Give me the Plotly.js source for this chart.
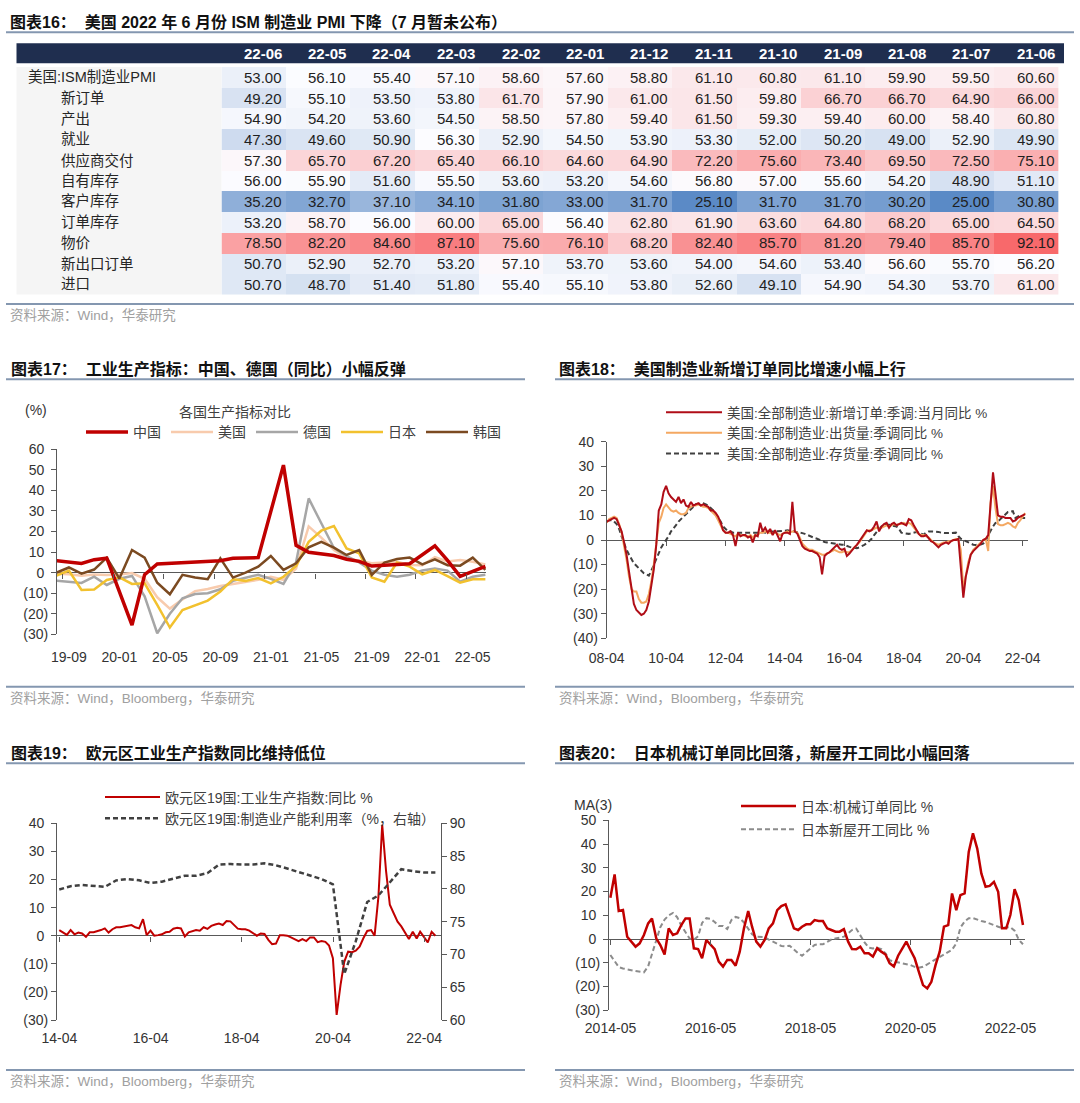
<!DOCTYPE html>
<html>
<head>
<meta charset="utf-8">
<script src="https://cdn.plot.ly/plotly-3.0.1.min.js"></script>
<style>
html, body { margin:0; padding:0; background:#ffffff; }
#chart { width:1080px; height:1103px; }
</style>
</head>
<body>
<div id="chart"></div>
<script>
// ================= 图表16: ISM PMI table =================
const pmiMonths = ['22-06','22-05','22-04','22-03','22-02','22-01','21-12','21-11','21-10','21-09','21-08','21-07','21-06'];
const pmiRowLabels = ['美国:ISM制造业PMI','新订单','产出','就业','供应商交付','自有库存','客户库存','订单库存','物价','新出口订单','进口'];
const pmiHeadline   = [53.00,56.10,55.40,57.10,58.60,57.60,58.80,61.10,60.80,61.10,59.90,59.50,60.60];
const pmiNewOrders  = [49.20,55.10,53.50,53.80,61.70,57.90,61.00,61.50,59.80,66.70,66.70,64.90,66.00];
const pmiProduction = [54.90,54.20,53.60,54.50,58.50,57.80,59.40,61.50,59.30,59.40,60.00,58.40,60.80];
const pmiEmployment = [47.30,49.60,50.90,56.30,52.90,54.50,53.90,53.30,52.00,50.20,49.00,52.90,49.90];
const pmiDeliveries = [57.30,65.70,67.20,65.40,66.10,64.60,64.90,72.20,75.60,73.40,69.50,72.50,75.10];
const pmiInventory  = [56.00,55.90,51.60,55.50,53.60,53.20,54.60,56.80,57.00,55.60,54.20,48.90,51.10];
const pmiCustInv    = [35.20,32.70,37.10,34.10,31.80,33.00,31.70,25.10,31.70,31.70,30.20,25.00,30.80];
const pmiBacklog    = [53.20,58.70,56.00,60.00,65.00,56.40,62.80,61.90,63.60,64.80,68.20,65.00,64.50];
const pmiPrices     = [78.50,82.20,84.60,87.10,75.60,76.10,68.20,82.40,85.70,81.20,79.40,85.70,92.10];
const pmiExports    = [50.70,52.90,52.70,53.20,57.10,53.70,53.60,54.00,54.60,53.40,56.60,55.70,56.20];
const pmiImports    = [50.70,48.70,51.40,51.80,55.40,55.10,53.80,52.60,49.10,54.90,54.30,53.70,61.00];

// ================= 图表17: industrial production =================
const ipMonths = ['19-08','19-09','19-10','19-11','19-12','20-01','20-02','20-03','20-04','20-05','20-06','20-07','20-08','20-09','20-10','20-11','20-12','21-01','21-02','21-03','21-04','21-05','21-06','21-07','21-08','21-09','21-10','21-11','21-12','22-01','22-02','22-03','22-04','22-05','22-06'];
const ipTickLabels = ['19-09','20-01','20-05','20-09','21-01','21-05','21-09','22-01','22-05'];
const ipYTicks = [-30,-20,-10,0,10,20,30,40,50,60];
const ipChina   = [5.8,5.3,4.5,6.3,7.0,null,-25.5,-1.0,4.2,4.5,4.6,4.8,5.2,5.8,7.0,7.2,7.3,null,52.3,13.3,9.9,8.9,8.3,6.5,5.5,3.2,3.5,3.8,4.3,null,13.0,6.0,-1.8,0.7,3.0];
const ipUS      = [-0.5,-0.8,-1.5,-0.9,-1.2,-0.9,-0.2,-3.0,-12.0,-17.5,-13.0,-9.0,-8.0,-6.5,-5.5,-4.5,-3.5,-2.0,-3.5,2.0,22.5,17.0,11.0,7.0,5.9,4.6,4.9,5.3,3.7,3.6,7.5,5.4,6.1,5.3,4.0];
const ipGermany = [-3.9,-4.3,-5.0,-2.0,-6.0,-3.0,-1.6,-11.5,-29.5,-20.0,-12.5,-10.4,-10.0,-8.1,-4.0,-2.5,-1.0,-3.0,-5.5,5.0,36.1,24.0,12.0,8.0,5.0,1.0,-1.0,-2.0,-1.0,1.0,2.0,1.0,-4.4,-2.0,-1.0];
const ipJapan   = [-1.5,1.0,-8.4,-8.2,-3.6,-2.3,-5.5,-5.2,-15.7,-26.7,-18.2,-16.0,-13.6,-9.2,-3.2,-4.0,-2.6,-5.2,-2.0,3.2,15.0,20.4,22.7,11.8,9.4,-2.3,-4.4,4.9,2.9,-0.8,1.3,-1.7,-4.9,-3.2,-3.2];
const ipKorea   = [0.0,2.5,-0.5,1.5,7.3,-2.9,11.0,7.3,-4.9,-10.5,-1.1,-2.4,-3.2,7.0,-2.4,0.0,2.9,8.1,1.3,4.5,12.3,15.0,12.2,8.6,11.0,-1.1,4.9,6.6,7.3,4.0,6.5,3.6,3.4,7.3,1.3];

// ================= 图表18: US manufacturing (monthly from 2008-04) =================
const usTickLabels = ['08-04','10-04','12-04','14-04','16-04','18-04','20-04','22-04'];
const usYTicks = [-40,-30,-20,-10,0,10,20,30,40];
const usNewOrders = [
  7.5,8,8.5,9,8.5,6,3.5,-1,-6,
  -13,-21,-26,-28.5,-29.5,-30.5,-30,-28.5,-25,-19,-12,-2,
  12,14.5,19.5,22,19,17.5,16.5,15.5,17.5,15,16.5,14,
  13.5,15.5,14,14.5,15,14,14.5,14,13.5,12,12,11,
  9.5,7,4,3,3,3.5,2,-2.5,3,1.5,2,2,
  1,1.5,-1,2,1.5,7,3.5,5,3,4.5,2,4,
  2,-0.5,2.5,3,3,2.5,15.5,3.5,2.5,0,-2.5,-3.5,
  -4,-4.5,-4.5,-5,-5.5,-7,-14,-6.5,-5.5,-5,-4,-3,
  -2,-3.5,-4,-3.5,-6.5,-5.5,-4,-3,-2,-0.5,1,2.5,
  4,3.5,4,5.5,7.5,3.5,5.5,6.5,7,5,6.5,7,
  6,6.5,7,6.5,6,8.5,8,6,4,2.5,1.5,1.5,
  2,0.5,-0.5,-1,-2,-3,-2,-1.5,-1,-1.5,-0.5,0,
  0,0.5,-11,-23.5,-15,-10,-6,-4.5,-3.5,-2.5,-1.5,0,
  0.5,2,15,27.5,19,10,9.5,9.5,9,9,9,7.5,
  8,9,9.5,10,10.5];
const usShipments = [
  7,8.5,9,9.5,9,6.5,3,-2,-8,
  -15,-20,-21,-21,-24,-25.5,-25.5,-25,-22,-17,-10,-2,
  7,9.5,13,14.5,13,12,11.5,12,11,10.5,10.5,11,
  13,13.5,14,14,14.5,14,13.5,13.5,13,12,11,10,
  8,6,4,3,3,2.5,2,1.5,2.5,2,2,1.5,
  1.5,2,1,2,2,3,3,3.5,3,3,2.5,3,
  2.5,2,2.5,3,3.5,3,3.5,3.5,3,1,-1.5,-2.5,
  -3.5,-4,-4,-4.5,-5,-5.5,-6,-6,-5.5,-5,-4.5,-4,
  -4.5,-5,-5,-4.5,-5,-5,-4,-3,-2,-1,0.5,2,
  3.5,4,4,4.5,5,4.5,5,5.5,6,5.5,6,6.5,
  6,6.5,6.5,7,6.5,7,6.5,5,3.5,2.5,2,2,
  1.5,1,0,-1,-1.5,-2,-1.5,-1,-1,-0.5,-0.5,0,
  0.5,0,-4,-20,-15,-9,-6,-4,-3,-2,-1,0,
  0.5,-4.5,15,22,13,6.5,6,6,6.5,7,6.5,5.5,
  5,7,8,9.5,11];
const usInventories = [
  7.5,8,8,7.5,6.5,4.5,1.5,-1.5,-4,
  -6,-8,-9.5,-10.5,-11.5,-12.5,-13.5,-14,-14.5,-12.5,-10,-7.5,
  -5.5,-3,-1.5,0,1.5,3.5,5,6,7.5,8.5,9.5,10.5,
  11.5,12.5,13.5,14.5,14.5,15,15,14.5,14,13,12,10.5,
  9,7.5,5.5,4.5,3.5,3.5,3,3,3,3,2.8,3,
  2.8,3,3,3,3,3,3.2,3,3.2,3.5,3.5,3.5,
  3.5,3.7,3.8,3.8,4,3.8,3.8,3.5,3.5,3,2.8,2.5,
  2,1.5,1,0.8,0.5,0,-0.5,-0.8,-1,-1.2,-1.3,-1.5,
  -1.7,-1.8,-1.9,-2,-2.5,-2.8,-3,-3.3,-3.3,-3,-2.6,-2,
  -1.3,-0.5,0.5,2,3.5,4.5,5.5,6,6.2,6.2,6,5.8,
  5.5,4.5,3,2.8,2.5,2.5,2.7,3,3.2,3,2.5,2.2,
  3,3.5,3.5,3.5,3.5,3.3,3,2.8,2.8,2.8,2.8,3,
  3,1.5,0.5,0,-0.5,-1,-1.5,-1.9,-2,-2,-1.8,-1.5,
  -0.5,2,4,5.5,6.9,7.5,8.5,9.5,10.5,11.4,11.5,11.7,
  9,9.5,10,9,9];

// ================= 图表19: Euro area (monthly from 2014-03; capacity quarterly) =================
const euTickLabels = ['14-04','16-04','18-04','20-04','22-04'];
const euYTicks = [-30,-20,-10,0,10,20,30,40];
const euY2Ticks = [60,65,70,75,80,85,90];
const euIP = [
  2.0,1.0,0.3,2.0,0.5,1.1,0.8,-0.4,1.2,1.2,
  1.5,2.0,2.6,1.1,2.3,3.0,3.0,3.3,3.6,3.8,3.0,2.6,
  5.9,0.2,1.8,0.0,0.2,0.5,1.2,1.4,2.5,2.8,2.6,-0.3,
  1.2,1.7,2.0,1.8,3.0,2.4,3.5,4.0,4.3,3.8,5.2,5.1,
  3.8,2.5,2.3,2.3,1.8,1.0,0.0,0.8,0.6,-1.5,-3.0,-2.8,
  0.2,0.2,0.0,-0.6,-1.3,-1.9,-1.2,-1.9,-0.6,-0.6,-2.3,-1.9,
  -2.2,-3.5,-8.0,-28.2,-17.6,-9.3,-5.7,-5.9,-5.3,-3.9,-0.9,1.7,
  2.0,0.0,14.0,39.5,23.0,11.0,8.0,5.0,3.3,0.8,-1.2,1.4,
  -1.0,1.4,-0.6,-2.4,1.4,0.0];
const euCapacity = [79.9,80.4,80.6,80.5,80.3,81.3,81.5,81.3,80.9,81.1,81.6,82.0,82.0,82.4,83.7,83.8,83.7,83.7,83.9,83.6,83.1,82.6,82.1,81.5,80.7,67.0,72.0,78.0,79.0,81.0,83.0,82.7,82.5,82.5];

// ================= 图表20: Japan (monthly from 2014-04) =================
const jpTickLabels = ['2014-05','2016-05','2018-05','2020-05','2022-05'];
const jpYTicks = [-30,-20,-10,0,10,20,30,40,50];
const jpMachinery = [
  17.4,27.2,11.8,12.2,1.0,-1.1,-3.2,-1.8,1.7,6.6,
  8.7,0.3,-2.5,-6.5,4.5,1.7,2.4,5.9,8.7,8.7,
  -3.9,-4.2,-8.1,-0.4,-2.5,-4.2,-9.5,-11.6,-8.8,-8.8,
  -11.2,-5.3,4.5,11.8,5.2,-1.1,-3.2,-0.4,4.5,6.6,
  12.2,13.9,14.6,9.4,4.5,3.8,5.2,6.2,6.2,8.0,
  7.6,7.6,4.5,3.8,3.1,3.1,4.2,-1.1,-4.2,-4.3,
  -3.2,-6.0,-6.0,-7.4,-3.9,-5.3,-6.5,-10.2,-11.6,-7.0,
  -3.9,-1.1,-4.6,-8.1,-13.7,-19.4,-20.8,-18.0,-10.9,-5.3,
  5.2,5.9,19.2,12.2,18.5,19.2,36.7,44.5,38.1,27.6,
  22.0,22.4,24.1,19.9,4.5,4.5,10.1,21.0,16.4,5.9];
const jpHousing = [
  -6.7,-9.5,-11.8,-12.4,-12.6,-13.1,-13.5,-13.7,-14.0,-11.5,
  -6.5,-1.2,5.0,8.2,10.0,11.0,9.2,5.7,2.8,0.2,
  -0.3,1.2,6.8,8.8,8.5,7.2,5.5,5.5,4.2,8.0,
  9.3,8.8,7.0,4.5,2.0,1.0,1.0,0.8,-0.2,-1.2,
  -1.9,-2.9,-3.1,-2.8,-4.4,-6.0,-7.0,-5.5,-3.7,-2.5,
  -2.2,-2.2,-1.2,-0.2,0.2,0.6,1.0,2.4,3.8,4.4,
  1.6,-1.4,-3.6,-4.0,-3.7,-4.2,-6.0,-8.9,-9.5,-9.9,
  -10.1,-10.5,-10.9,-11.7,-12.1,-11.7,-10.7,-9.6,-8.5,-7.5,
  -6.5,-5.6,-4.5,-1.8,4.8,7.4,8.8,8.8,8.1,7.6,
  7.2,6.7,5.9,5.2,4.6,5.0,5.0,3.5,-0.2,-2.2];

// ================= helpers =================
function monthSeq(y0, m0, n, step, monthEnd) {
  const out = [];
  for (let k = 0; k < n; k++) {
    const idx = m0 - 1 + k * step;
    const y = y0 + Math.floor(idx / 12);
    const m = idx % 12 + 1;
    const d = monthEnd ? new Date(Date.UTC(y, m, 0)).getUTCDate() : 1;
    out.push(y + '-' + String(m).padStart(2, '0') + '-' + String(d).padStart(2, '0'));
  }
  return out;
}
const paren = v => v < 0 ? '(' + (-v) + ')' : v + '\u00a0';

const W = 1080, H = 1103;
const fx = p => p / W;
const fy = p => 1 - p / H;
const domX = (a, b) => [fx(a), fx(b)];
const domY = (top, bottom) => [fy(bottom), fy(top)];

const FONT_LAT = '"Liberation Sans", Arial, sans-serif';
const FONT_MIX = '"Liberation Sans", "Noto Sans CJK SC", sans-serif';
const AXC = '#595959';
const LINE_C = '#8497b0';
const tickFont = {family: FONT_LAT, size: 14, color: '#333333'};

function yAxis(top, bottom, range, vals, anchor, labeler) {
  return {domain: domY(top, bottom), range: range, anchor: anchor, tickmode: 'array', tickvals: vals,
    ticktext: vals.map(labeler || paren), showline: true, linecolor: AXC, linewidth: 1, ticks: 'outside',
    ticklen: 5, tickcolor: AXC, tickfont: tickFont, showgrid: false, zeroline: true, zerolinecolor: AXC,
    zerolinewidth: 1, fixedrange: true};
}
function xLabelAxis(domain, range, type, vals, text, anchor, standoff) {
  return {domain: domain, range: range, type: type, anchor: anchor, tickmode: 'array', tickvals: vals,
    ticktext: text, ticks: 'outside', ticklen: standoff, tickcolor: 'rgba(0,0,0,0)', showline: false,
    showgrid: false, zeroline: false, tickfont: tickFont, fixedrange: true};
}
function tickAxis(overlay, domain, range, type, vals, yTop, yBottom, yRange) {
  const frac = (0 - yRange[0]) / (yRange[1] - yRange[0]);
  const d = domY(yTop, yBottom);
  return {overlaying: overlay, anchor: 'free', position: d[0] + frac * (d[1] - d[0]), side: 'bottom',
    domain: domain, range: range, type: type, tickmode: 'array', tickvals: vals, ticks: 'outside',
    ticklen: 5, tickcolor: AXC, tickwidth: 1, showticklabels: false, showgrid: false, zeroline: false,
    showline: false, fixedrange: true};
}

// ================= geometry =================
const T = {x0: 221.5, x1: 1058.7, top: 67, bottom: 294.6};
const C17 = {x0: 57, x1: 486, top: 449.3, bottom: 634.3, range: [0.057, 34.05], yr: [-30, 60]};
const C18 = {x0: 606.7, x1: 1028, top: 441.7, bottom: 638.3, range: ['2008-04-01', '2022-06-05'], yr: [-40, 40]};
const C19 = {x0: 57, x1: 441, top: 823.3, bottom: 1020, range: ['2014-03-13', '2022-08-14'], yr: [-30, 40], yr2: [60, 90]};
const C20 = {x0: 609, x1: 1025, top: 820.3, bottom: 1010.3, range: ['2014-04-20', '2022-08-15'], yr: [-30, 50]};

// ================= traces =================
const pmiRows = [pmiHeadline, pmiNewOrders, pmiProduction, pmiEmployment, pmiDeliveries, pmiInventory,
  pmiCustInv, pmiBacklog, pmiPrices, pmiExports, pmiImports];
const allV = pmiRows.flat();
const zMin = Math.min(...allV), zMax = Math.max(...allV);
const sortedV = [...allV].sort((a, b) => a - b);
const zMed = sortedV[Math.floor(sortedV.length / 2)];
const midPos = (zMed - zMin) / (zMax - zMin);

const data = [];
data.push({type: 'heatmap', x: pmiMonths, y: pmiRowLabels, z: pmiRows, xaxis: 'x', yaxis: 'y',
  zmin: zMin, zmax: zMax, colorscale: [[0, '#5A8AC6'], [midPos, '#FCFCFF'], [1, '#F8696B']],
  showscale: false, hoverinfo: 'skip', xgap: 0, ygap: 0});

// chart 17
const s17 = [
  {name: '美国', y: ipUS, color: '#f8cbad', w: 2.5, rank: 2},
  {name: '德国', y: ipGermany, color: '#a6a6a6', w: 2.5, rank: 3},
  {name: '日本', y: ipJapan, color: '#f2c12e', w: 2.5, rank: 4},
  {name: '韩国', y: ipKorea, color: '#7b4a21', w: 2.5, rank: 5},
  {name: '中国', y: ipChina, color: '#c00000', w: 3.5, rank: 1}
];
s17.forEach(s => data.push({type: 'scatter', mode: 'lines', name: s.name, x: ipMonths, y: s.y,
  xaxis: 'x2', yaxis: 'y2', legend: 'legend', legendrank: s.rank, connectgaps: true,
  line: {color: s.color, width: s.w}, hoverinfo: 'skip'}));

// chart 18
const usDates = monthSeq(2008, 4, usNewOrders.length, 1, false);
data.push({type: 'scatter', mode: 'lines', name: '美国:全部制造业:存货量:季调同比 %', x: usDates, y: usInventories,
  xaxis: 'x3', yaxis: 'y3', legend: 'legend2', legendrank: 3, line: {color: '#404040', width: 2, dash: '5px,3px'}, hoverinfo: 'skip'});
data.push({type: 'scatter', mode: 'lines', name: '美国:全部制造业:出货量:季调同比 %', x: usDates, y: usShipments,
  xaxis: 'x3', yaxis: 'y3', legend: 'legend2', legendrank: 2, line: {color: '#f4a862', width: 2}, hoverinfo: 'skip'});
data.push({type: 'scatter', mode: 'lines', name: '美国:全部制造业:新增订单:季调:当月同比 %', x: usDates, y: usNewOrders,
  xaxis: 'x3', yaxis: 'y3', legend: 'legend2', legendrank: 1, line: {color: '#b00d17', width: 2}, hoverinfo: 'skip'});

// chart 19
data.push({type: 'scatter', mode: 'lines', name: '欧元区19国:工业生产指数:同比 %', x: monthSeq(2014, 3, euIP.length, 1, true), y: euIP,
  xaxis: 'x4', yaxis: 'y4', legend: 'legend3', legendrank: 1, line: {color: '#c00000', width: 2}, hoverinfo: 'skip'});
data.push({type: 'scatter', mode: 'lines', name: '欧元区19国:制造业产能利用率（%，右轴）', x: monthSeq(2014, 3, euCapacity.length, 3, true), y: euCapacity,
  xaxis: 'x4', yaxis: 'y5', legend: 'legend3', legendrank: 2, line: {color: '#404040', width: 2.5, dash: '5px,3px'}, hoverinfo: 'skip'});

// chart 20
const jpDates = monthSeq(2014, 4, jpMachinery.length, 1, true);
data.push({type: 'scatter', mode: 'lines', name: '日本新屋开工同比 %', x: jpDates, y: jpHousing,
  xaxis: 'x5', yaxis: 'y6', legend: 'legend4', legendrank: 2, legendgroup: 'b', line: {color: '#8c8c8c', width: 2, dash: '5px,3px'}, hoverinfo: 'skip'});
data.push({type: 'scatter', mode: 'lines', name: '日本:机械订单同比 %', x: jpDates, y: jpMachinery,
  xaxis: 'x5', yaxis: 'y6', legend: 'legend4', legendrank: 1, legendgroup: 'a', line: {color: '#c00000', width: 2.5}, hoverinfo: 'skip'});

// dummy traces so tick-only overlay axes are drawn
[['x6', 'y2'], ['x7', 'y3'], ['x8', 'y4'], ['x9', 'y6']].forEach(p => data.push({type: 'scatter', mode: 'lines',
  x: [], y: [], xaxis: p[0], yaxis: p[1], showlegend: false, hoverinfo: 'skip'}));

// ================= annotations =================
const ann = [];
const titleFont = {family: FONT_MIX, size: 16, color: '#111111', weight: 'bold'};
const srcFont = {family: FONT_MIX, size: 13.5, color: '#a0a0a0'};
function txt(x, y, text, font, xanchor) {
  ann.push({xref: 'paper', yref: 'paper', x: fx(x), y: fy(y), text: text, font: font, showarrow: false,
    xanchor: xanchor || 'left', yanchor: 'middle'});
}
txt(7.6, 21.7, '<b>图表16：\u00a0\u00a0美国 2022 年 6 月份 ISM 制造业 PMI 下降（7 月暂未公布）</b>', titleFont);
txt(7.6, 315, '资料来源：Wind，华泰研究', srcFont);
txt(8.6, 369, '<b>图表17：\u00a0\u00a0工业生产指标：中国、德国（同比）小幅反弹</b>', titleFont);
txt(557, 369, '<b>图表18：\u00a0\u00a0美国制造业新增订单同比增速小幅上行</b>', titleFont);
txt(8.6, 752.7, '<b>图表19：\u00a0\u00a0欧元区工业生产指数同比维持低位</b>', titleFont);
txt(557, 752.7, '<b>图表20：\u00a0\u00a0日本机械订单同比回落，新屋开工同比小幅回落</b>', titleFont);
txt(8, 698.3, '资料来源：Wind，Bloomberg，华泰研究', srcFont);
txt(557, 698.3, '资料来源：Wind，Bloomberg，华泰研究', srcFont);
txt(8, 1081.7, '资料来源：Wind，Bloomberg，华泰研究', srcFont);
txt(557, 1081.7, '资料来源：Wind，Bloomberg，华泰研究', srcFont);
txt(35.5, 410, '(%)', {family: FONT_LAT, size: 14, color: '#333333'}, 'center');
txt(235, 412.3, '各国生产指标对比', {family: FONT_MIX, size: 14, color: '#404040'}, 'center');
txt(592.8, 805.3, 'MA(3)', {family: FONT_LAT, size: 14, color: '#333333'}, 'center');

// table header + values + row labels
pmiMonths.forEach((m, c) => ann.push({xref: 'x', yref: 'paper', x: c + 0.47, y: fy(53.3), text: '<b>' + m + '</b>',
  font: {family: FONT_LAT, size: 15, color: '#ffffff'}, showarrow: false, xanchor: 'right', yanchor: 'middle'}));
pmiRows.forEach((row, r) => {
  ann.push({xref: 'paper', yref: 'y', x: fx(r === 0 ? 25.8 : 58.5), y: r, text: pmiRowLabels[r],
    font: {family: FONT_MIX, size: 14.5, color: '#262626'}, showarrow: false, xanchor: 'left', yanchor: 'middle'});
  row.forEach((v, c) => ann.push({xref: 'x', yref: 'y', x: c + 0.47, y: r, text: v.toFixed(2),
    font: {family: FONT_LAT, size: 15, color: '#1f1f1f'}, showarrow: false, xanchor: 'right', yanchor: 'middle'}));
});

// ================= shapes =================
const shapes = [];
function hline(x0, x1, y, color, width) {
  shapes.push({type: 'line', xref: 'paper', yref: 'paper', x0: fx(x0), x1: fx(x1), y0: fy(y), y1: fy(y),
    line: {color: color, width: width}});
}
hline(6, 1074, 32.3, LINE_C, 2);
hline(6, 1074, 304, LINE_C, 2);
hline(6, 525, 379.3, LINE_C, 2);
hline(555, 1074, 379.3, LINE_C, 2);
hline(6, 525, 686.7, LINE_C, 2);
hline(555, 1074, 686.7, LINE_C, 2);
hline(6, 525, 763.3, LINE_C, 2);
hline(555, 1074, 763.3, LINE_C, 2);
hline(6, 525, 1070, LINE_C, 2);
hline(555, 1074, 1070, LINE_C, 2);
shapes.push({type: 'rect', xref: 'paper', yref: 'paper', x0: fx(16.5), x1: fx(1064), y0: fy(63.3), y1: fy(43.3),
  fillcolor: '#1f2e4f', line: {width: 0}, layer: 'below'});
shapes.push({type: 'rect', xref: 'paper', yref: 'paper', x0: fx(16.5), x1: fx(T.x0), y0: fy(T.bottom), y1: fy(T.top),
  fillcolor: '#f5f5f5', line: {width: 0}, layer: 'below'});

// ================= layout =================
const layout = {
  width: W, height: H, margin: {l: 0, r: 0, t: 0, b: 0}, paper_bgcolor: '#ffffff', plot_bgcolor: 'rgba(0,0,0,0)',
  showlegend: true, annotations: ann, shapes: shapes,
  // table (category axes so '22-06' style labels are not read as dates)
  xaxis: {type: 'category', domain: domX(T.x0, T.x1), range: [-0.5, pmiMonths.length - 0.5], visible: false, fixedrange: true, anchor: 'y'},
  yaxis: {type: 'category', domain: domY(T.top, T.bottom), range: [pmiRowLabels.length - 0.5, -0.5], visible: false, fixedrange: true, anchor: 'x'},
  // chart 17
  xaxis2: xLabelAxis(domX(C17.x0, C17.x1), C17.range, 'category', ipTickLabels, ipTickLabels, 'y2', 10),
  yaxis2: yAxis(C17.top, C17.bottom, C17.yr, ipYTicks, 'x2'),
  xaxis6: tickAxis('x2', domX(C17.x0, C17.x1), C17.range, 'linear', ipTickLabels.map(l => ipMonths.indexOf(l) - 0.5), C17.top, C17.bottom, C17.yr),
  // chart 18
  xaxis3: xLabelAxis(domX(C18.x0, C18.x1), C18.range, 'date', usTickLabels.map(l => '20' + l + '-01'), usTickLabels, 'y3', 7),
  yaxis3: yAxis(C18.top, C18.bottom, C18.yr, usYTicks, 'x3'),
  xaxis7: tickAxis('x3', domX(C18.x0, C18.x1), C18.range, 'date', usTickLabels.map(l => '20' + l + '-01'), C18.top, C18.bottom, C18.yr),
  // chart 19
  xaxis4: xLabelAxis(domX(C19.x0, C19.x1), C19.range, 'date', euTickLabels.map(l => '20' + l + '-01'), euTickLabels, 'y4', 5),
  yaxis4: yAxis(C19.top, C19.bottom, C19.yr, euYTicks, 'x4'),
  yaxis5: Object.assign(yAxis(C19.top, C19.bottom, C19.yr2, euY2Ticks, 'x4', v => String(v)),
    {overlaying: 'y4', side: 'right', zeroline: false}),
  xaxis8: tickAxis('x4', domX(C19.x0, C19.x1), C19.range, 'date', euTickLabels.map(l => '20' + l + '-01'), C19.top, C19.bottom, C19.yr),
  // chart 20
  xaxis5: xLabelAxis(domX(C20.x0, C20.x1), C20.range, 'date', jpTickLabels.map(l => l + '-01'), jpTickLabels, 'y6', 5),
  yaxis6: yAxis(C20.top, C20.bottom, C20.yr, jpYTicks, 'x5'),
  xaxis9: tickAxis('x5', domX(C20.x0, C20.x1), C20.range, 'date', jpTickLabels.map(l => l + '-01'), C20.top, C20.bottom, C20.yr),
  // legends
  legend: {orientation: 'h', x: fx(81), xanchor: 'left', y: fy(432.3), yanchor: 'middle', itemwidth: 42,
    font: {family: FONT_MIX, size: 14, color: '#404040'}, bgcolor: 'rgba(0,0,0,0)', borderwidth: 0},
  legend2: {x: fx(661), xanchor: 'left', y: fy(397), yanchor: 'top', itemwidth: 56,
    font: {family: FONT_MIX, size: 13.5, color: '#404040'}, bgcolor: 'rgba(0,0,0,0)', borderwidth: 0},
  legend3: {x: fx(100), xanchor: 'left', y: fy(781.5), yanchor: 'top', itemwidth: 55,
    font: {family: FONT_MIX, size: 14, color: '#404040'}, bgcolor: 'rgba(0,0,0,0)', borderwidth: 0},
  legend4: {x: fx(736), xanchor: 'left', y: fy(790.5), yanchor: 'top', itemwidth: 55, tracegroupgap: 2,
    font: {family: FONT_MIX, size: 14, color: '#404040'}, bgcolor: 'rgba(0,0,0,0)', borderwidth: 0}
};

Plotly.newPlot('chart', data, layout, {staticPlot: true, displayModeBar: false});
</script>
</body>
</html>
